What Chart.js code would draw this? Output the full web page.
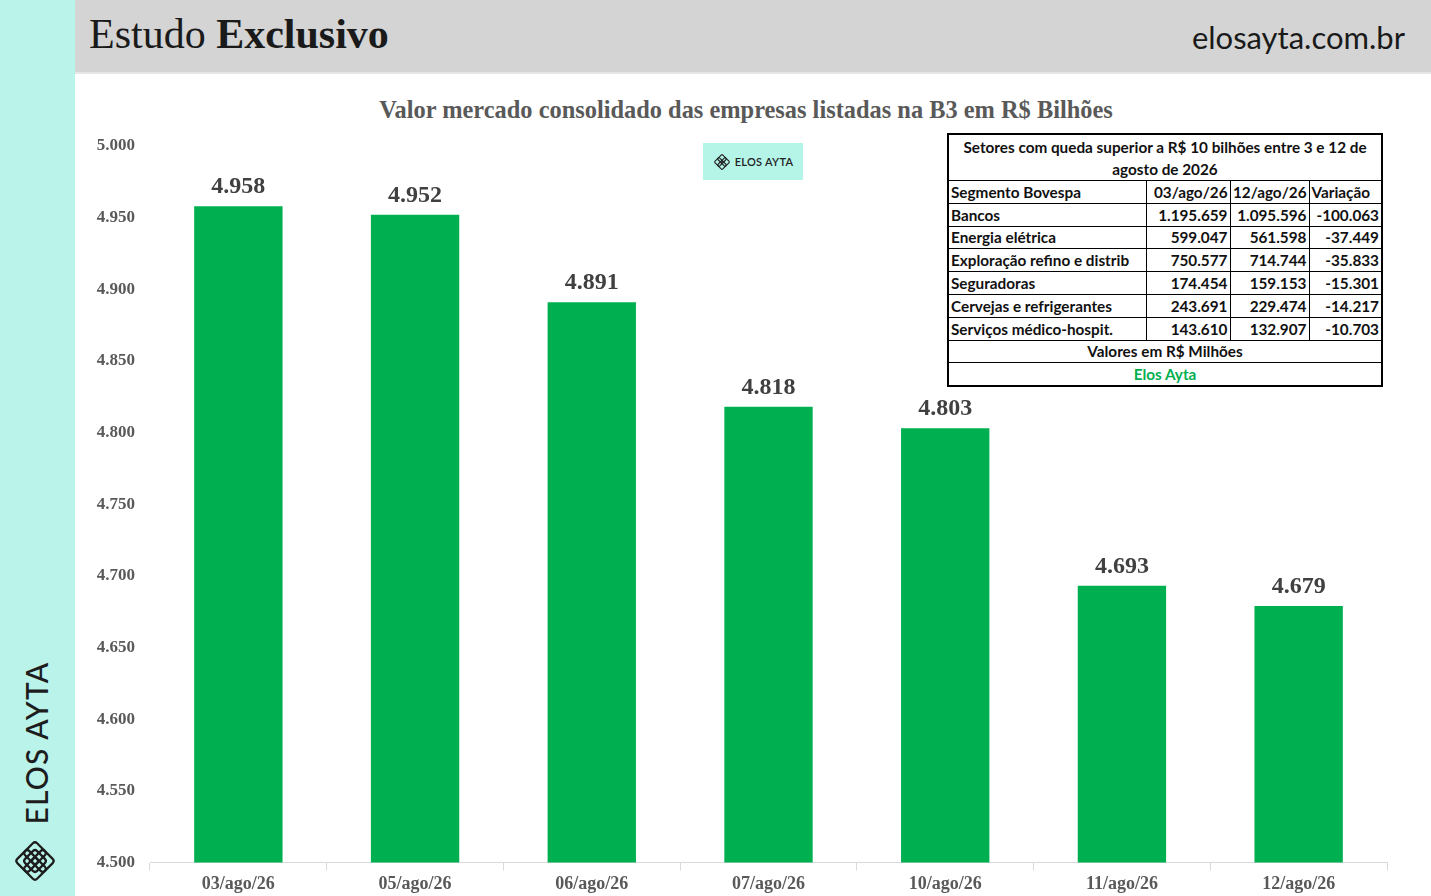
<!DOCTYPE html>
<html lang="pt-BR">
<head>
<meta charset="utf-8">
<title>Valor mercado consolidado B3</title>
<script src="https://cdn.jsdelivr.net/npm/chart.js@4"></script>
<style>
  html, body { margin: 0; padding: 0; }
  body { width: 1431px; height: 896px; position: relative; overflow: hidden; background: #fff; }
  .sidebar { position: absolute; left: 0; top: 0; width: 75px; height: 896px; background: #baf3ea; }
  .sidebar .brand {
    position: absolute; left: 36px; top: 743px;
    transform: translate(-50%, -50%) rotate(-90deg);
    font-family: Lato, sans-serif; font-size: 30px; font-weight: 500; letter-spacing: 1.2px;
    color: #1d1d1d; white-space: nowrap;
  }
  .sidebar svg { position: absolute; left: 12px; top: 838px; }
  .header { position: absolute; left: 75px; top: 0; width: 1356px; height: 72px; background: #d4d4d4; border-bottom: 2px solid #e6e6e6; }
  .header .left { position: absolute; left: 14px; top: 10px; font-family: "Liberation Serif", serif; font-size: 42px; color: #1a1a1a; }
  .header .left b { font-weight: 700; }
  .header .right { position: absolute; right: 26px; top: 18px; font-family: Lato, sans-serif; font-size: 31px; color: #1a1a1a; }
  .chart-title {
    position: absolute; left: 746px; top: 96px; transform: translateX(-50%);
    font-family: "Liberation Serif", serif; font-weight: 700; font-size: 24.4px; color: #595959; white-space: nowrap;
  }
  .chart-box { position: absolute; left: 75px; top: 75px; width: 1356px; height: 826px; }
  .badge {
    position: absolute; left: 703px; top: 143px; width: 100px; height: 37px; background: #b5f5e8;
    font-family: Lato, sans-serif; font-size: 11px; font-weight: 600; color: #222;
    display: flex; align-items: center; justify-content: center; gap: 4px; letter-spacing: 0.3px;
  }
  table.sectors {
    position: absolute; left: 947px; top: 133px; width: 436px; border-collapse: collapse;
    border: 2px solid #000; background: #fff;
    font-family: Lato, sans-serif; font-weight: 700; font-size: 15.3px; color: #111;
  }
  table.sectors td { border: 1px solid #000; padding: 0 2px; height: 21.8px; line-height: 20px; white-space: nowrap; }
  table.sectors td.num { text-align: right; }
  table.sectors td.c { text-align: center; }
  table.sectors tr.head td { height: 45px; line-height: 22px; white-space: normal; padding: 0 6px; }
  table.sectors td.green { color: #00b050; }
</style>
</head>
<body>
<div class="sidebar">
  <div class="brand">ELOS AYTA</div>
  <svg width="46" height="46" viewBox="0 0 46 46">
    <g transform="rotate(45 23 23)" fill="none" stroke="#1d1d1d" stroke-width="2.2">
      <rect x="9" y="9" width="17" height="17" rx="3"/>
      <rect x="20" y="9" width="17" height="17" rx="3"/>
      <rect x="9" y="20" width="17" height="17" rx="3"/>
      <rect x="20" y="20" width="17" height="17" rx="3"/>
      <rect x="14.5" y="14.5" width="17" height="17" rx="3"/>
    </g>
  </svg>
</div>
<div class="header">
  <div class="left">Estudo <b>Exclusivo</b></div>
  <div class="right">elosayta.com.br</div>
</div>
<div class="chart-title">Valor mercado consolidado das empresas listadas na B3 em R$ Bilhões</div>
<div class="chart-box"><canvas id="marketChart"></canvas></div>
<div class="badge">
  <svg width="18" height="18" viewBox="0 0 46 46">
    <g transform="rotate(45 23 23)" fill="none" stroke="#222" stroke-width="3">
      <rect x="9" y="9" width="17" height="17" rx="3"/>
      <rect x="20" y="9" width="17" height="17" rx="3"/>
      <rect x="9" y="20" width="17" height="17" rx="3"/>
      <rect x="20" y="20" width="17" height="17" rx="3"/>
    </g>
  </svg>
  <span>ELOS AYTA</span>
</div>
<table class="sectors" id="sectorTable"></table>

<script>
// dates and consolidated market value (R$ bilhões)
const categories = ['03/ago/26', '05/ago/26', '06/ago/26', '07/ago/26', '10/ago/26', '11/ago/26', '12/ago/26'];
const marketValues = [4958, 4952, 4891, 4818, 4803, 4693, 4679];

// table: sectors with drop above R$ 10 bi (R$ milhões)
const sectors = ['Bancos', 'Energia elétrica', 'Exploração refino e distrib', 'Seguradoras', 'Cervejas e refrigerantes', 'Serviços médico-hospit.'];
const valuesStart = [1195659, 599047, 750577, 174454, 243691, 143610];
const valuesEnd = [1095596, 561598, 714744, 159153, 229474, 132907];
const variations = [-100063, -37449, -35833, -15301, -14217, -10703];

// 4958 -> "4.958"
function fmt(v) {
    const neg = v < 0;
    const s = String(Math.abs(v)).replace(/\B(?=(\d{3})+(?!\d))/g, '.');
    return (neg ? '-' : '') + s;
}

// build table
const tbl = document.getElementById('sectorTable');
let html = '<colgroup><col style="width:198px"><col style="width:84px"><col style="width:79px"><col style="width:73px"></colgroup>';
html += '<tr class="head"><td class="c" colspan="4">Setores com queda superior a R$ 10 bilhões entre 3 e 12 de agosto de 2026</td></tr>';
html += '<tr><td>Segmento Bovespa</td><td class="num">03/ago/26</td><td class="num">12/ago/26</td><td>Variação</td></tr>';
sectors.forEach((s, i) => {
    html += '<tr><td>' + s + '</td><td class="num">' + fmt(valuesStart[i]) + '</td><td class="num">' +
        fmt(valuesEnd[i]) + '</td><td class="num">' + fmt(variations[i]) + '</td></tr>';
});
html += '<tr><td class="c" colspan="4">Valores em R$ Milhões</td></tr>';
html += '<tr><td class="c green" colspan="4">Elos Ayta</td></tr>';
tbl.innerHTML = html;

// value labels above bars
const barLabels = {
    id: 'barLabels',
    afterDatasetsDraw(chart) {
        const ctx = chart.ctx;
        ctx.save();
        ctx.font = 'bold 24px "Liberation Serif"';
        ctx.fillStyle = '#404040';
        ctx.textAlign = 'center';
        ctx.textBaseline = 'middle';
        chart.getDatasetMeta(0).data.forEach((bar, i) => {
            ctx.fillText(fmt(marketValues[i]), bar.x, bar.y - 19);
        });
        ctx.restore();
    }
};

const mChart = new Chart(document.getElementById('marketChart'), {
    type: 'bar',
    data: {
        labels: categories,
        datasets: [{
            data: marketValues,
            backgroundColor: '#00b050',
            borderWidth: 0,
            barPercentage: 0.5,
            categoryPercentage: 1
        }]
    },
    options: {
        responsive: true,
        maintainAspectRatio: false,
        animation: false,
        layout: { padding: { top: 71, right: 44, bottom: 3, left: 0 } },
        plugins: {
            legend: { display: false },
            tooltip: { enabled: false }
        },
        scales: {
            x: {
                grid: { display: true, drawOnChartArea: false, offset: true, tickLength: 8, color: '#d9d9d9' },
                border: { color: '#d9d9d9' },
                ticks: {
                    padding: 3,
                    color: '#595959',
                    font: { family: 'Liberation Serif', weight: 'bold', size: 18 }
                }
            },
            y: {
                min: 4500,
                max: 5000,
                grid: { display: false },
                border: { display: false },
                afterFit(scale) { scale.width = 75; },
                ticks: {
                    stepSize: 50,
                    padding: 7,
                    color: '#595959',
                    font: { family: 'Liberation Serif', weight: 'bold', size: 17 },
                    callback: v => fmt(v)
                }
            }
        }
    },
    plugins: [barLabels]
});
</script>
</body>
</html>
